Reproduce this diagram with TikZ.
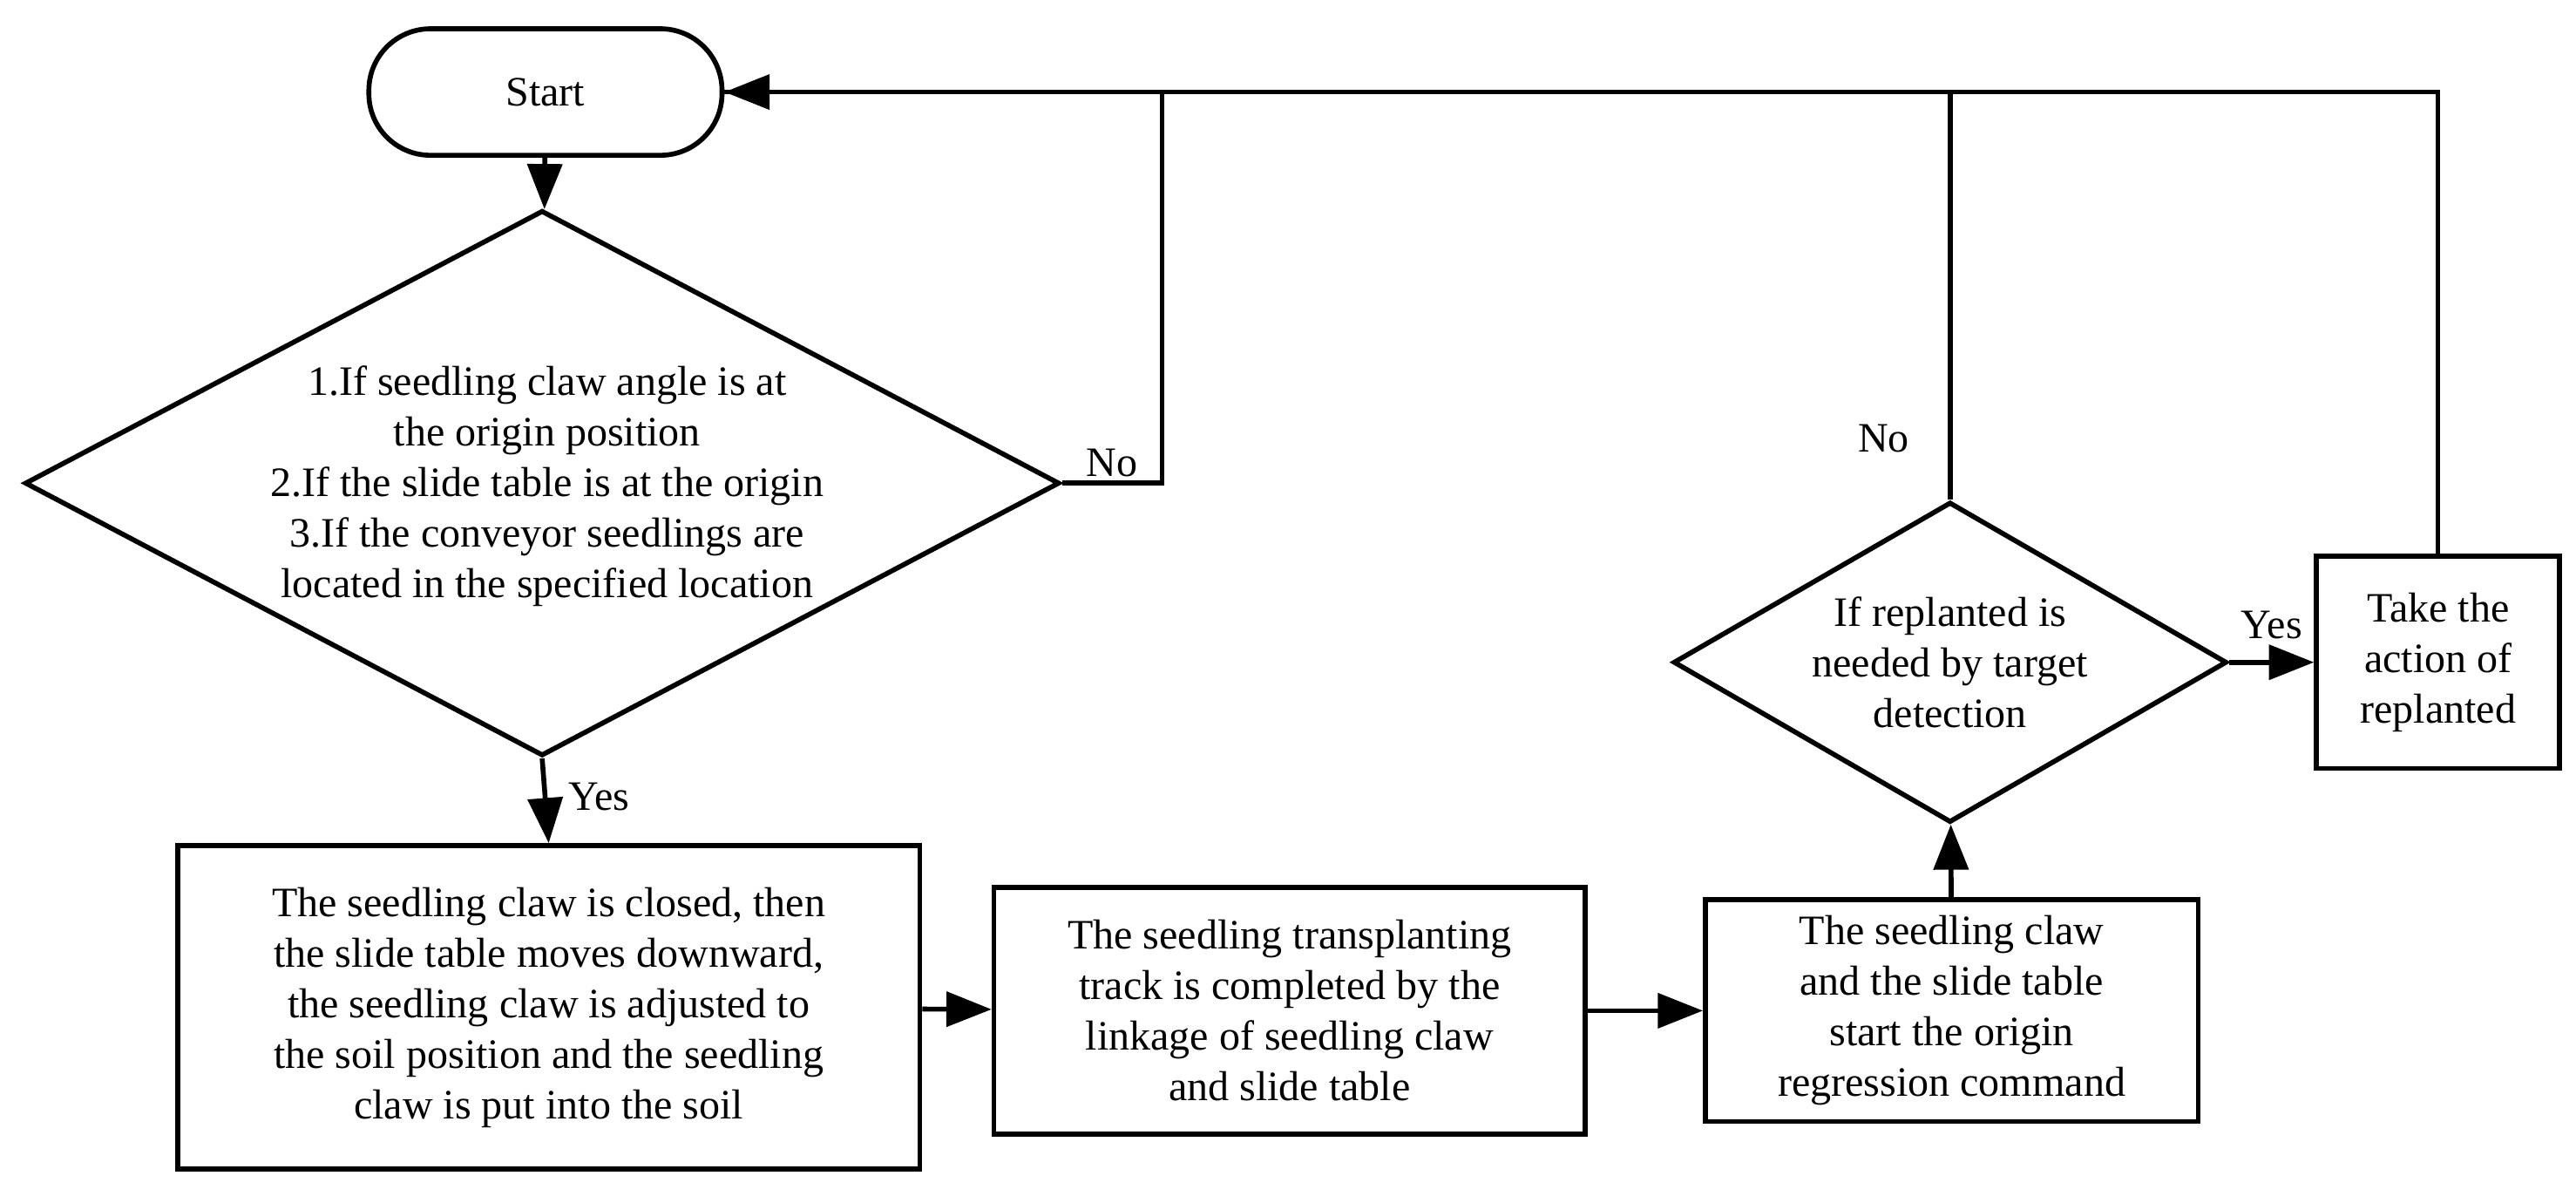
\documentclass[tikz,border=0pt]{standalone}
\usepackage{fontspec}
\setmainfont{Liberation Serif}
\usetikzlibrary{calc,arrows.meta,shapes.geometric}

\begin{document}
\begin{tikzpicture}[x=0.02cm,y=-0.02cm,line width=1.7pt,
	box/.style={draw,rectangle,align=center,inner sep=0pt},
	dec/.style={draw,diamond,inner sep=0pt},
	txt/.style={align=center,inner sep=0pt},
	flow/.style={-{Triangle[length=0.55cm,width=0.42cm]}},
	every node/.style={font=\fontsize{14.5}{17.5}\selectfont}]
	\useasboundingbox (0,0) rectangle (1568,731.5);
	
	%terminal
	\node[draw,rounded corners=0.75cm,minimum width=4.3cm,minimum height=1.54cm] (start) at (332,56) {Start};
	
	%first check
	\node[dec,minimum width=12.6cm,minimum height=6.64cm] (chk) at (330,294) {};
	\node[txt] (chktxt) at (333,296) {1.If seedling claw angle is at\\the origin position\\2.If the slide table is at the origin\\3.If the conveyor seedlings are\\located in the specified location};
	
	%boxes
	\node[box,minimum width=9.04cm,minimum height=3.94cm] (close) at (334,613) {The seedling claw is closed, then\\the slide table moves downward,\\the seedling claw is adjusted to\\the soil position and the seedling\\claw is put into the soil};
	\node[box,minimum width=7.2cm,minimum height=3cm] (track) at (785,615) {The seedling transplanting\\track is completed by the\\linkage of seedling claw\\and slide table};
	\node[box,minimum width=6cm,minimum height=2.7cm] (back) at (1188,615) {The seedling claw\\and the slide table\\start the origin\\regression command};
	
	%second check
	\node[dec,minimum width=6.74cm,minimum height=3.9cm] (repl) at (1187,403) {};
	\node[txt] (repltxt) at (1187,403) {If replanted is\\needed by target\\detection};
	\node[box,minimum width=2.96cm,minimum height=2.58cm] (act) at (1484,403) {Take the\\action of\\replanted};
	
	%connectors
	\draw[flow] (start) -- (chk);
	\draw[flow] (chk.south) -- (close.north) node[pos=0.45,right=4pt] {Yes};
	\draw[flow] (close) -- (track);
	\draw[flow] (track) -- (back);
	\draw[flow] (back) -- (repl);
	\draw[flow] (repl) -- (act) node[midway,above=4pt] {Yes};
	\draw (chk.east) -- ++(61,0) node[pos=0.5,above=-2pt] {No} |- (start.east);
	\draw (repl.north) -- ++(0,-249) node[pos=0.15,left=10pt] {No};
	\draw[flow] (act.north) |- (start.east);
\end{tikzpicture}
\end{document}
